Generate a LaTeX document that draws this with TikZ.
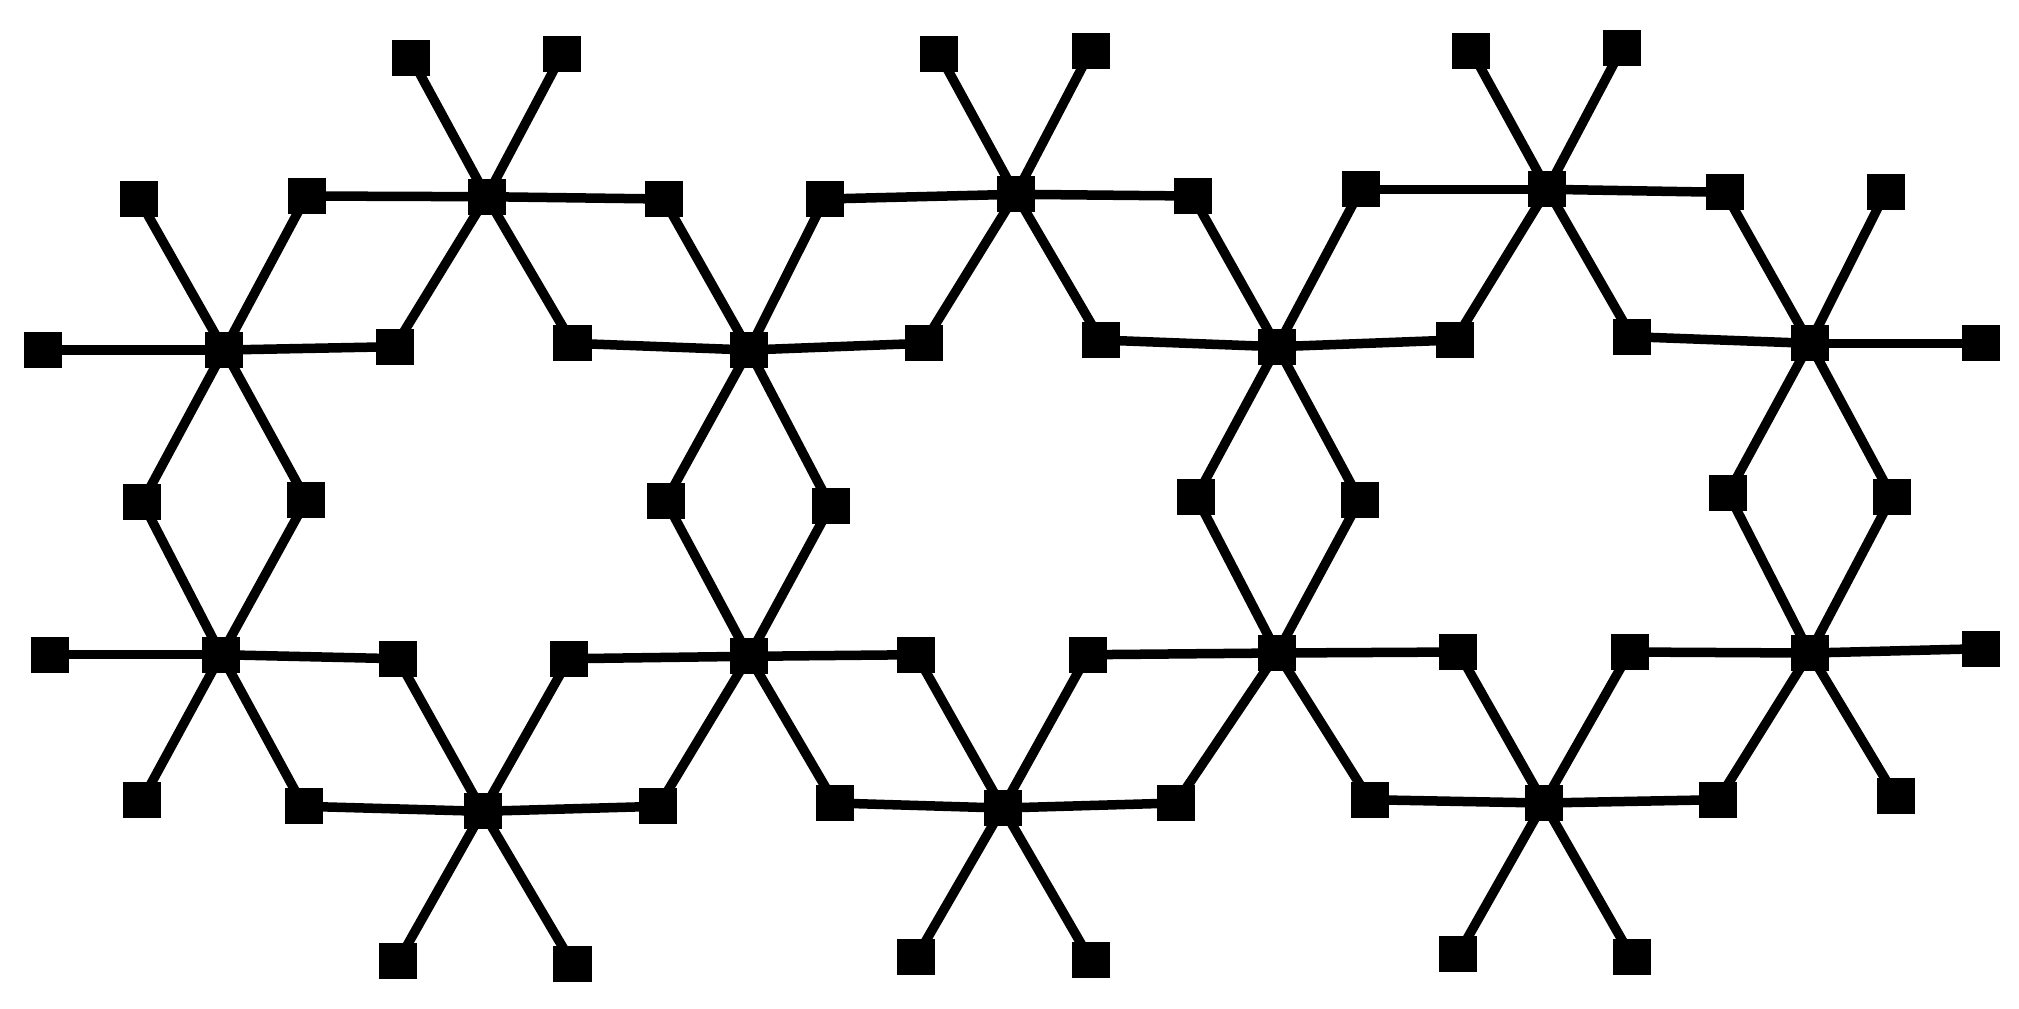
\documentclass[tikz,border=0pt]{standalone}
\usetikzlibrary{backgrounds}
\begin{document}
\begin{tikzpicture}[x=0.01cm,y=-0.01cm,
  sq/.style={rectangle,fill=black,inner sep=0pt,minimum width=0.38cm,minimum height=0.36cm},
  link/.style={draw=black,line width=0.095cm}]
\useasboundingbox (0,0) rectangle (2019,1008);
% hubs
\foreach \n/\x/\y in {h1/224.2/350, h2/486.6/196.7, h3/748.9/350, h4/1015.7/194.3,
  h5/1277.2/346.7, h6/1547.3/189.3, h7/1809.7/343.3, h8/221.2/654.7, h9/482.7/811.3,
  h10/748.9/656.3, h11/1002.6/808, h12/1277.2/653, h13/1543.8/803, h14/1809.7/653}
  \node[sq] (\n) at (\x,\y) {};
% leaves
\foreach \n/\x/\y in {a1/43.4/350, a2/138.8/199, a3/306.6/196, a4/394.7/346.7,
  a5/411.1/57.7, a6/562.1/54.3, a7/663.6/199, a8/572.5/343.3, a9/824.8/199,
  a10/923.7/343.3, a11/939.3/54.3, a12/1090.7/51, a13/1192.6/196, a14/1100.7/340,
  a15/1360.8/189.3, a16/1454.9/340, a17/1471.4/51, a18/1622.3/47.7, a19/1724.7/192.3,
  a20/1631.9/336.7, a21/1885.6/192.3, a22/1981/343.3,
  b1/142.3/502, b2/306.4/500, b3/665.7/500.9, b4/830.5/506, b5/1196.2/497,
  b6/1359.7/500, b7/1728.2/493.3, b8/1892.1/496.7,
  c1/49.9/654.7, c2/397.7/658.7, c3/569/658.7, c4/916.3/654.7, c5/1087.7/654.7,
  c6/1458.4/652, c7/1629.7/652, c8/1981/648.7,
  d1/142.3/799.7, d2/303.6/806.3, d3/658.4/806.3, d4/834.8/803, d5/1176.1/803,
  d6/1369.5/799.7, d7/1718.2/799.7, d8/1895.6/796.3,
  e1/398.1/961.3, e2/572.5/963.7, e3/916.3/957.3, e4/1090.7/960.3, e5/1458.4/954,
  e6/1631.9/957.3}
  \node[sq] (\n) at (\x,\y) {};
% connectors
\begin{pgfonlayer}{background}
\foreach \h/\list in {h1/{a1,a2,a3,a4,b1,b2}, h2/{a3,a4,a5,a6,a7,a8},
  h3/{a7,a8,a9,a10,b3,b4}, h4/{a9,a10,a11,a12,a13,a14}, h5/{a13,a14,a15,a16,b5,b6},
  h6/{a15,a16,a17,a18,a19,a20}, h7/{a19,a20,a21,a22,b7,b8}, h8/{b1,b2,c1,c2,d1,d2},
  h9/{c2,c3,d2,d3,e1,e2}, h10/{b3,b4,c3,c4,d3,d4}, h11/{c4,c5,d4,d5,e3,e4},
  h12/{b5,b6,c5,c6,d5,d6}, h13/{c6,c7,d6,d7,e5,e6}, h14/{b7,b8,c7,c8,d7,d8}}
  \foreach \t in \list
    \draw[link] (\h.center) -- (\t.center);
\end{pgfonlayer}
\end{tikzpicture}
\end{document}
